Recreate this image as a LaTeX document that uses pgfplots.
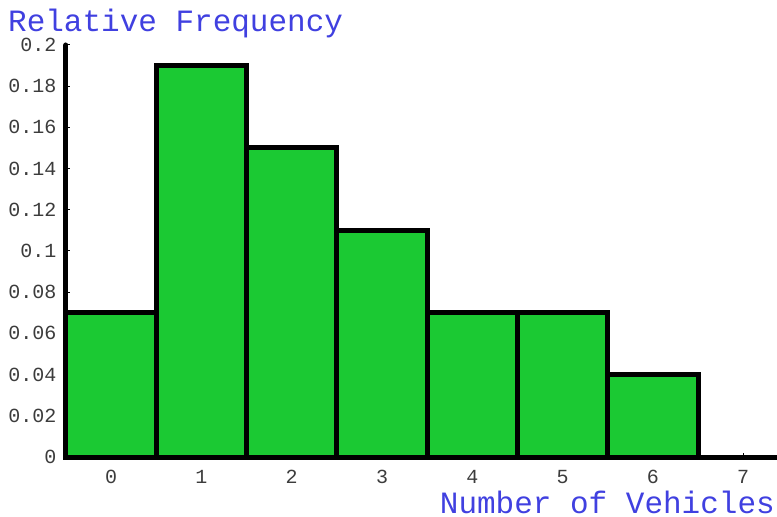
\documentclass[border=0pt]{standalone}
\usepackage{pgfplots}
\pgfplotsset{compat=1.18}
\usepackage{fontspec}
\setmainfont{Liberation Mono}
\definecolor{barfill}{RGB}{27,201,51}
\definecolor{titleblue}{RGB}{64,64,224}
\definecolor{tickgray}{RGB}{60,60,60}
\begin{document}
\begin{tikzpicture}
\useasboundingbox (-66pt,-60pt) rectangle (711pt,457pt);
\begin{axis}[
  scale only axis,
  width=711pt, height=412pt,
  xmin=-0.5, xmax=7.374,
  ymin=0, ymax=0.2,
  axis x line*=bottom, axis y line*=left,
  axis line style={line width=5pt, black, line cap=round},
  xtick={0,1,2,3,4,5,6,7},
  ytick={0,0.02,0.04,0.06,0.08,0.1,0.12,0.14,0.16,0.18,0.2},
  /pgf/number format/assume math mode=true,
  /pgf/number format/.cd, fixed, precision=2, /pgfplots/.cd,
  ticklabel style={font=\fontsize{20}{22}\selectfont, text=tickgray},
  xticklabel style={yshift=-10pt},
  yticklabel style={xshift=-6pt},
  major tick length=4pt,
  tick style={black, line width=1pt},
  clip=false,
]
\addplot[ybar interval, fill=barfill, draw=black, line width=5pt] coordinates {
  (-0.5,0.07) (0.5,0.19) (1.5,0.15) (2.5,0.11) (3.5,0.07) (4.5,0.07) (5.5,0.04) (6.5,0.04)
};
\end{axis}
\node[anchor=base west, text=titleblue, font=\fontsize{31}{34}\selectfont, inner sep=0pt, text depth=0pt] at (-58pt,425pt) {Relative Frequency};
\node[anchor=base east, text=titleblue, font=\fontsize{31}{34}\selectfont, inner sep=0pt, text depth=0pt] at (709pt,-56pt) {Number of Vehicles};
\end{tikzpicture}
\end{document}
